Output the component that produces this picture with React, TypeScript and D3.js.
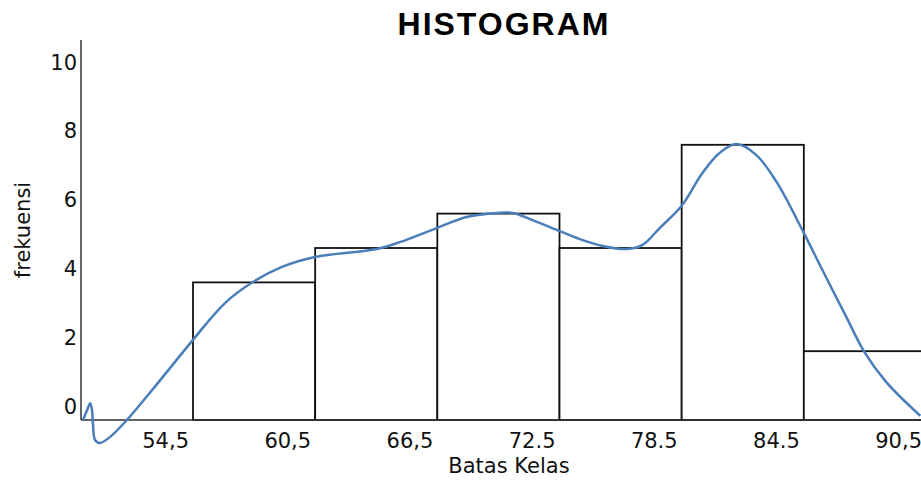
import React from "react";
import * as d3 from "d3";

const binEdges = [54.5, 60.5, 66.5, 72.5, 78.5, 84.5, 90.5];
const frequencies = [4, 5, 6, 5, 8, 2];
const xTickLabels = ["54,5", "60,5", "66,5", "72.5", "78.5", "84.5", "90,5"];
const yTicks = [0, 2, 4, 6, 8, 10];

// smooth frequency curve (data units)
const curveX = [49.1, 49.3, 49.45, 49.54, 49.59, 49.69, 49.94, 50.43, 51.16, 52.78, 54.5, 56.07, 57.44, 58.87, 60.49, 63.53, 64.66, 66.47, 67.94, 69.42, 70.2, 71.18, 72.51, 73.49, 74.62, 75.8, 76.58, 77.42, 78.49, 79.52, 80.36, 81.19, 82.17, 83.16, 84.43, 85.41, 86.59, 87.47, 88.55, 90.22];
const curveY = [0, 0.29, 0.49, 0.29, -0.15, -0.58, -0.67, -0.49, -0.06, 1.08, 2.33, 3.4, 4.01, 4.45, 4.74, 4.97, 5.17, 5.58, 5.9, 6.02, 6.02, 5.81, 5.49, 5.26, 5.06, 4.97, 5.09, 5.58, 6.22, 7.18, 7.76, 8.02, 7.7, 6.92, 5.52, 4.36, 2.99, 1.98, 1.1, 0.12];

export default function App() {
  const W = 921, H = 489;
  const x = d3.scaleLinear().domain([54.5, 90.5]).range([193, 926]);
  const y = d3.scaleLinear().domain([0, 10]).range([420, 76]);
  const axisLeft = x(49);
  const pts: [number, number][] = curveX.map((v, i) => [x(v), y(curveY[i])]);
  const path = d3.line().curve(d3.curveCatmullRom.alpha(0.5))(pts) || "";
  const font = "'DejaVu Sans', Verdana, sans-serif";
  return (
    <svg width={W} height={H} style={{ position: "absolute", left: 0, top: 0, background: "#fff" }}>
      <rect x={0} y={0} width={W} height={H} fill="#fff" />
      <text x={504} y={35} textAnchor="middle" fontFamily="'Liberation Sans', Arial, sans-serif" fontWeight="bold" fontSize={32} letterSpacing={2} fill="#000">HISTOGRAM</text>
      {frequencies.map((f, i) => (
        <rect key={i} x={x(binEdges[i])} y={y(f)} width={x(binEdges[i + 1]) - x(binEdges[i])} height={y(0) - y(f)} fill="#fff" stroke="#111" strokeWidth={1.8} />
      ))}
      <line x1={axisLeft} x2={W} y1={y(0)} y2={y(0)} stroke="#333" strokeWidth={1.5} />
      <line x1={axisLeft} x2={axisLeft} y1={40} y2={y(0)} stroke="#333" strokeWidth={1.5} />
      {yTicks.map((t) => (
        <text key={t} x={77} y={y(t) - 14} dy="0.36em" textAnchor="end" fontFamily={font} fontSize={21} fill="#111">{t}</text>
      ))}
      {binEdges.map((e, i) => (
        <text key={i} x={x(e) - 4} y={448} textAnchor="end" fontFamily={font} fontSize={21} fill="#111">{xTickLabels[i]}</text>
      ))}
      <text x={509} y={473} textAnchor="middle" fontFamily={font} fontSize={21} fill="#111">Batas Kelas</text>
      <text transform={`translate(30,230) rotate(-90)`} textAnchor="middle" fontFamily={font} fontSize={21} fill="#111">frekuensi</text>
      <path d={path} fill="none" stroke="#4a7ebb" strokeWidth={2.5} />
    </svg>
  );
}
